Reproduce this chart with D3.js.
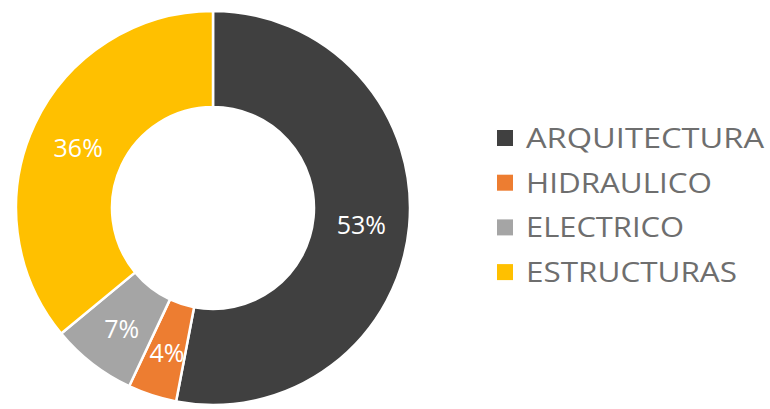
<!DOCTYPE html>
<html>
<head>
<meta charset="utf-8">
<script src="https://cdn.jsdelivr.net/npm/d3@7"></script>
<style>
  html, body { margin: 0; padding: 0; background: #ffffff; }
  svg { display: block; }
</style>
</head>
<body>
<svg id="chart" width="770" height="409"></svg>
<script>
// Share of work by discipline (percent)
const categories = ["ARQUITECTURA", "HIDRAULICO", "ELECTRICO", "ESTRUCTURAS"];
const values = [53, 4, 7, 36];
const colors = ["#404040", "#ED7D31", "#A5A5A5", "#FFC000"];

const svg = d3.select("#chart");
const cx = 213, cy = 208;
const outerR = 197, innerR = 101;

const pie = d3.pie().sort(null).value(d => d.value);
const data = categories.map((c, i) => ({ name: c, value: values[i], color: colors[i] }));
const arcs = pie(data);

const arc = d3.arc().innerRadius(innerR).outerRadius(outerR);
const labelArc = d3.arc().innerRadius((innerR + outerR) / 2).outerRadius((innerR + outerR) / 2);

const g = svg.append("g").attr("transform", `translate(${cx},${cy})`);

g.selectAll("path.slice")
  .data(arcs)
  .join("path")
  .attr("class", "slice")
  .attr("d", arc)
  .attr("fill", d => d.data.color)
  .attr("stroke", "#ffffff")
  .attr("stroke-width", 2.5)
  .attr("stroke-linejoin", "round");

g.selectAll("text.pct")
  .data(arcs)
  .join("text")
  .attr("class", "pct")
  .attr("transform", d => `translate(${labelArc.centroid(d)})`)
  .attr("text-anchor", "middle")
  .attr("dy", "0.48em")
  .attr("font-family", "'Open Sans', sans-serif")
  .attr("font-size", 25)
  .attr("fill", "#ffffff")
  .text(d => d.data.value + "%");

// Legend
const legend = svg.append("g").attr("transform", "translate(497,148)");
const rowH = 44.7;
const item = legend.selectAll("g.item")
  .data(data)
  .join("g")
  .attr("class", "item")
  .attr("transform", (d, i) => `translate(0,${i * rowH})`);

item.append("rect")
  .attr("x", 0)
  .attr("y", -18)
  .attr("width", 16)
  .attr("height", 16)
  .attr("fill", d => d.color);

// legend label widths, px
const labelWidths = { "ARQUITECTURA": 238, "HIDRAULICO": 186, "ELECTRICO": 158, "ESTRUCTURAS": 211 };
item.append("text")
  .attr("x", 29)
  .attr("y", 0)
  .attr("font-family", "'Open Sans', sans-serif")
  .attr("font-size", 28)
  .attr("fill", "#6e6e6e")
  .attr("textLength", d => labelWidths[d.name])
  .attr("lengthAdjust", "spacingAndGlyphs")
  .text(d => d.name);
</script>
</body>
</html>
